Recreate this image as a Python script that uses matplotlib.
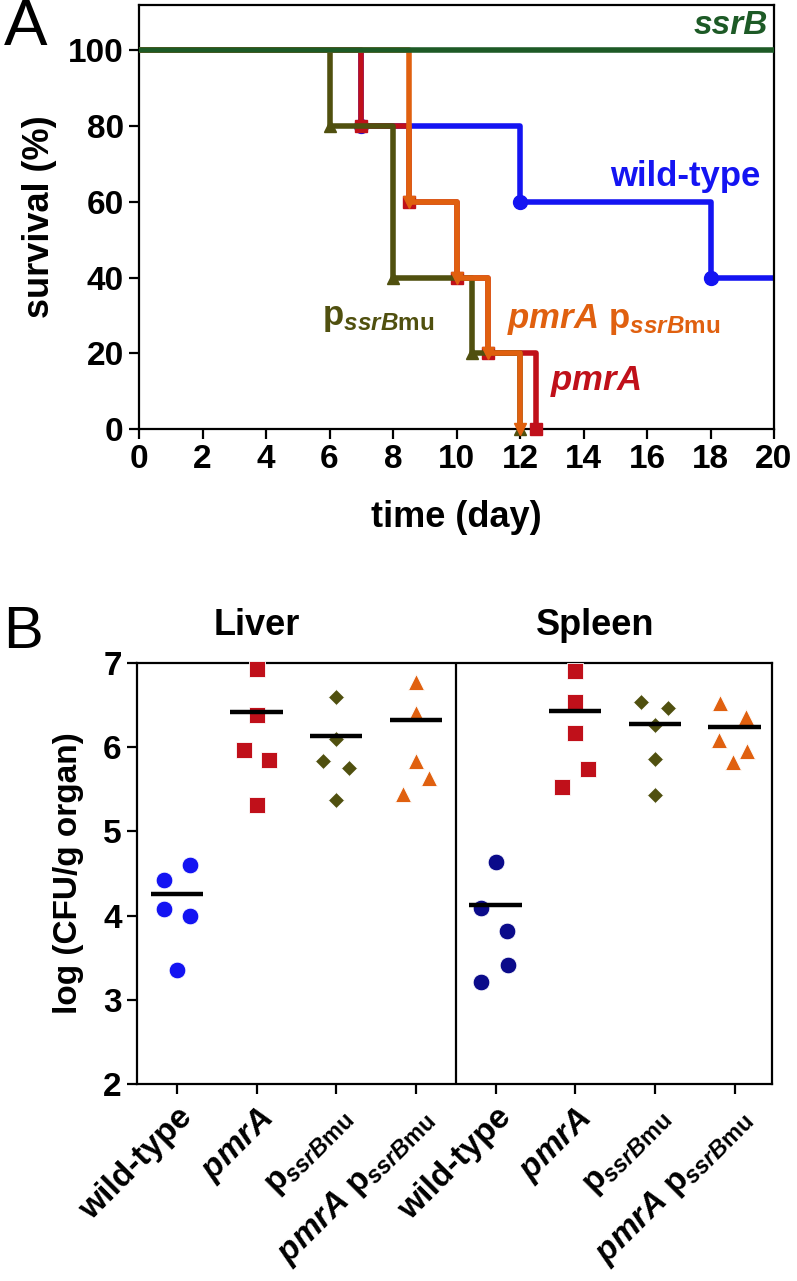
import matplotlib
matplotlib.use('Agg')
import matplotlib.pyplot as plt
import numpy as np

plt.rcParams['font.family'] = ['Liberation Sans', 'DejaVu Sans']
plt.rcParams['font.weight'] = 'bold'
plt.rcParams['mathtext.fontset'] = 'custom'
plt.rcParams['mathtext.rm'] = 'Liberation Sans:bold'
plt.rcParams['mathtext.it'] = 'Liberation Sans:italic:bold'
plt.rcParams['mathtext.bf'] = 'Liberation Sans:bold'

# ---------------- Panel A data (survival, %) ----------------
end_day = 20
ssrB_times = []
ssrB_surv = []
wt_times = [7, 12, 18]
wt_surv = [80, 60, 40]
pmrA_times = [7, 8.5, 10, 11, 12.5]
pmrA_surv = [80, 60, 40, 20, 0]
pssr_times = [6, 8, 10.5, 12]
pssr_surv = [80, 40, 20, 0]
pmrApssr_times = [8.5, 10, 11, 12]
pmrApssr_surv = [60, 40, 20, 0]
x_ticks_A = [0, 2, 4, 6, 8, 10, 12, 14, 16, 18, 20]
y_ticks_A = [0, 20, 40, 60, 80, 100]

# ---------------- Panel B data (log CFU/g organ) ----------------
groups = ['wild-type', 'pmrA', 'pssrBmu', 'pmrA pssrBmu']
group_labels = ['wild-type', r'$\mathit{pmrA}$', r'p$_{\mathit{ssrB}\mathrm{mu}}$',
                r'$\mathit{pmrA}$ p$_{\mathit{ssrB}\mathrm{mu}}$']
liver_wt = [4.60, 4.42, 4.08, 3.99, 3.35]
liver_pmrA = [6.93, 6.38, 5.97, 5.85, 5.31]
liver_pssr = [6.60, 6.10, 5.84, 5.75, 5.37]
liver_pmrApssr = [6.78, 6.41, 5.84, 5.64, 5.45]
spleen_wt = [4.64, 4.09, 3.82, 3.41, 3.21]
spleen_pmrA = [6.90, 6.54, 6.165, 5.74, 5.53]
spleen_pssr = [6.54, 6.47, 6.26, 5.86, 5.43]
spleen_pmrApssr = [6.52, 6.36, 6.09, 5.95, 5.83]
liver_means = [4.26, 6.42, 6.13, 6.32]
spleen_means = [4.12, 6.43, 6.27, 6.24]
# horizontal spread of points within a column (scatter layout)
liver_spread = [[0.16, -0.16, -0.16, 0.16, 0], [0, 0, -0.16, 0.16, 0],
                [0, 0, -0.16, 0.16, 0], [0, 0, 0, 0.16, -0.16]]
spleen_spread = [[0, -0.18, 0.14, 0.16, -0.18], [0, 0, 0, 0.16, -0.16],
                 [-0.17, 0.17, 0, 0, 0], [-0.18, 0.14, -0.2, 0.15, -0.02]]

c_green = '#1d5a26'
c_blue = '#1414f2'
c_red = '#c0101a'
c_olive = '#50500f'
c_orange = '#e0600f'
c_navy = '#0b0b8a'

fig = plt.figure(figsize=(7.97, 12.81), dpi=100)

# ================= Panel A =================
axA = fig.add_axes([139/797, 1 - 429/1281, (774-139)/797, (429-5)/1281])
axA.set_xlim(0, 20)
axA.set_ylim(0, 112)
lw = 4.0

def km(ax, times, surv, color, marker, ms, z, extend=True):
    xs = [0] + list(times)
    ys = [100] + list(surv)
    if extend and (len(surv) == 0 or surv[-1] > 0):
        xs.append(end_day)
        ys.append(ys[-1])
    ax.plot(xs, ys, drawstyle='steps-post', color=color, lw=lw, zorder=z,
            clip_on=False, solid_capstyle='butt')
    if marker is not None and len(times):
        ax.plot(times, surv, ls='none', marker=marker, ms=ms, color=color,
                zorder=z + 0.5, clip_on=False)

km(axA, wt_times, wt_surv, c_blue, 'o', 10, 2)
km(axA, pmrA_times, pmrA_surv, c_red, 's', 9, 3)
km(axA, pssr_times, pssr_surv, c_olive, '^', 9, 4)
km(axA, pmrApssr_times, pmrApssr_surv, c_orange, 'v', 9, 5)
km(axA, ssrB_times, ssrB_surv, c_green, None, 0, 6)

axA.set_xticks(x_ticks_A)
axA.set_yticks(y_ticks_A)
for sp in axA.spines.values():
    sp.set_linewidth(1.6)
axA.tick_params(direction='out', length=7, width=1.6, labelsize=24, pad=4)
for t in axA.get_xticklabels() + axA.get_yticklabels():
    t.set_fontweight('bold')
axA.set_xlabel('time (day)', fontsize=26, fontweight='bold', labelpad=18)
axA.set_ylabel('survival (%)', fontsize=26, fontweight='bold', labelpad=8)

axA.text(19.8, 106.5, 'ssrB', color=c_green, fontsize=24, fontweight='bold',
         fontstyle='italic', ha='right', va='center')
axA.text(17.2, 66.7, 'wild-type', color=c_blue, fontsize=25, fontweight='bold',
         ha='center', va='center')
axA.text(5.76, 27.5, r'p$_{\mathit{ssrB}\mathrm{mu}}$', color=c_olive, fontsize=25,
         fontweight='bold', ha='left', va='baseline')
axA.text(11.6, 26.7, r'$\mathit{pmrA}$ p$_{\mathit{ssrB}\mathrm{mu}}$', color=c_orange,
         fontsize=25, fontweight='bold', ha='left', va='baseline')
axA.text(12.95, 10.3, r'$\mathit{pmrA}$', color=c_red, fontsize=25,
         fontweight='bold', ha='left', va='baseline')

fig.text(4/797, 1 - 28/1281, 'A', fontsize=47, fontweight='normal', ha='left', va='center')

# ================= Panel B =================
axB = fig.add_axes([137/797, 1 - 1084/1281, (772-137)/797, (1084-663)/1281])
axB.set_xlim(-0.5, 7.47)
axB.set_ylim(2, 7)

liver_sets = [liver_wt, liver_pmrA, liver_pssr, liver_pmrApssr]
spleen_sets = [spleen_wt, spleen_pmrA, spleen_pssr, spleen_pmrApssr]
liver_colors = [c_blue, c_red, c_olive, c_orange]
spleen_colors = [c_navy, c_red, c_olive, c_orange]
markers = ['o', 's', 'D', '^']
msizes = [12, 12, 8.5, 12]

for i in range(4):
    for organ, (sets, means, spread, cols) in enumerate(
            [(liver_sets, liver_means, liver_spread, liver_colors),
             (spleen_sets, spleen_means, spleen_spread, spleen_colors)]):
        pos = i + 4 * organ
        xs = pos + np.array(spread[i])
        axB.plot(xs, sets[i], ls='none', marker=markers[i], ms=msizes[i],
                 color=cols[i], mec='white', mew=0.6, zorder=3, clip_on=False)
        axB.hlines(means[i], pos - 0.33, pos + 0.33, color='black', lw=3.2, zorder=4)

axB.axvline(3.5, color='black', lw=1.6, zorder=1)
axB.set_xticks(range(8))
axB.set_xticklabels(group_labels + group_labels, rotation=45, ha='right',
                    va='top', rotation_mode='anchor', fontsize=27)
axB.set_yticks([2, 3, 4, 5, 6, 7])
for sp in axB.spines.values():
    sp.set_linewidth(1.6)
axB.tick_params(direction='out', length=7, width=1.6, labelsize=24, pad=4)
axB.tick_params(axis='x', pad=6)
for t in axB.get_xticklabels() + axB.get_yticklabels():
    t.set_fontweight('bold')
axB.set_ylabel('log (CFU/g organ)', fontsize=24, fontweight='bold', labelpad=14)

axB.text(1.0, 1.09, 'Liver', transform=axB.get_xaxis_transform(), fontsize=26,
         fontweight='bold', ha='center', va='center')
axB.text(5.25, 1.09, 'Spleen', transform=axB.get_xaxis_transform(), fontsize=26,
         fontweight='bold', ha='center', va='center')

fig.text(3/797, 1 - 633/1281, 'B', fontsize=43, fontweight='normal', ha='left', va='center')

fig.savefig('out.png', dpi=100)
